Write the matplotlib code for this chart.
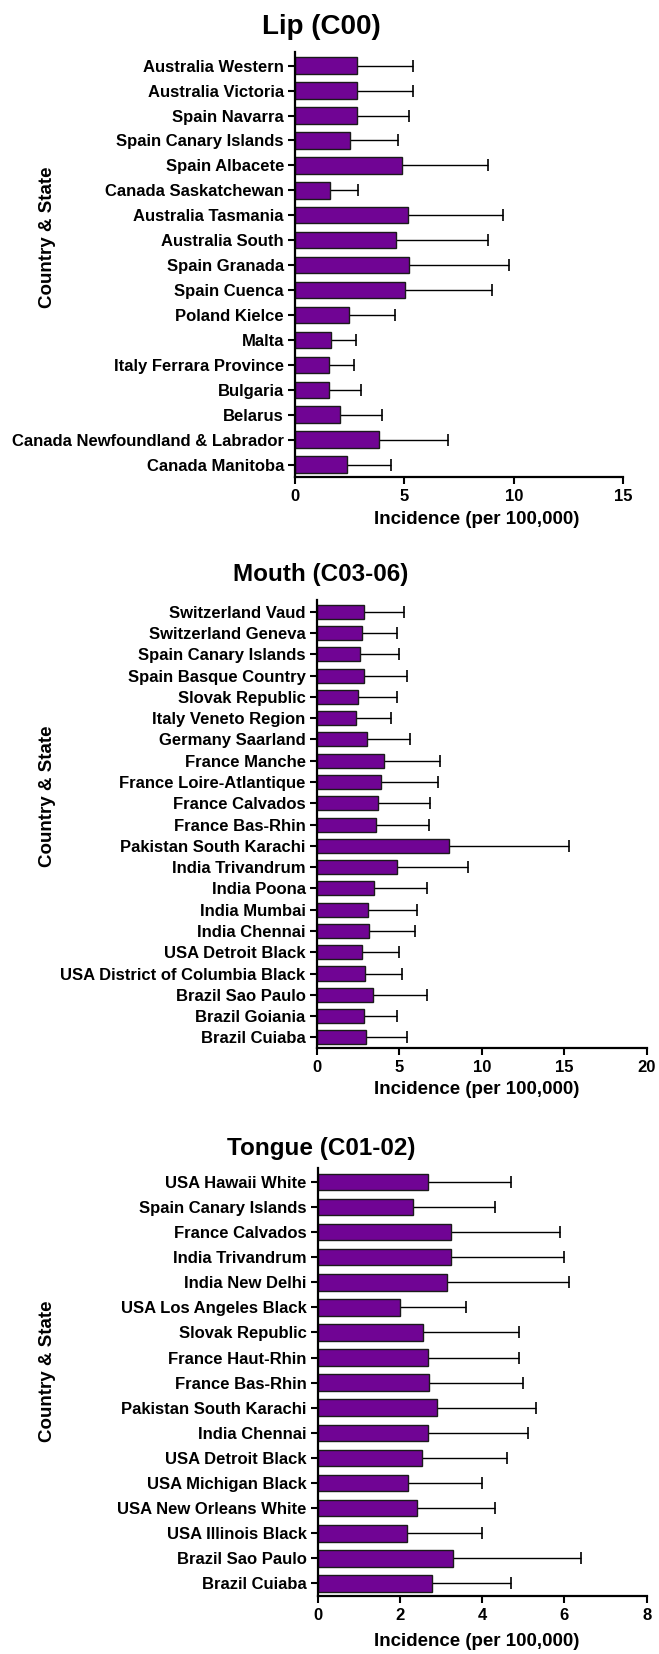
import matplotlib
matplotlib.use("Agg")
import matplotlib.pyplot as plt

plt.rcParams['font.family'] = ['Liberation Sans', 'DejaVu Sans']
plt.rcParams['font.weight'] = 'bold'

# Lip (C00)
lip_sites = ["Australia Western", "Australia Victoria", "Spain Navarra", "Spain Canary Islands",
             "Spain Albacete", "Canada Saskatchewan", "Australia Tasmania", "Australia South",
             "Spain Granada", "Spain Cuenca", "Poland Kielce", "Malta", "Italy Ferrara Province",
             "Bulgaria", "Belarus", "Canada Newfoundland & Labrador", "Canada Manitoba"]
lip_mean = [2.85, 2.82, 2.85, 2.51, 4.87, 1.58, 5.15, 4.60, 5.19, 5.01, 2.47, 1.63, 1.54, 1.54, 2.07, 3.82, 2.36]
lip_err = [2.56, 2.59, 2.34, 2.18, 3.93, 1.31, 4.34, 4.20, 4.60, 3.99, 2.11, 1.16, 1.14, 1.46, 1.92, 3.17, 2.03]

# Mouth (C03-06)
mouth_sites = ["Switzerland Vaud", "Switzerland Geneva", "Spain Canary Islands", "Spain Basque Country",
               "Slovak Republic", "Italy Veneto Region", "Germany Saarland", "France Manche",
               "France Loire-Atlantique", "France Calvados", "France Bas-Rhin", "Pakistan South Karachi",
               "India Trivandrum", "India Poona", "India Mumbai", "India Chennai", "USA Detroit Black",
               "USA District of Columbia Black", "Brazil Sao Paulo", "Brazil Goiania", "Brazil Cuiaba"]
mouth_mean = [2.89, 2.73, 2.65, 2.89, 2.53, 2.36, 3.03, 4.08, 3.92, 3.74, 3.62, 8.04, 4.87, 3.49,
              3.13, 3.15, 2.73, 2.95, 3.43, 2.87, 2.99]
mouth_err = [2.40, 2.14, 2.34, 2.56, 2.32, 2.12, 2.63, 3.39, 3.43, 3.13, 3.17, 7.23, 4.30, 3.20,
             2.95, 2.83, 2.26, 2.24, 3.26, 2.00, 2.46]

# Tongue (C01-02)
tongue_sites = ["USA Hawaii White", "Spain Canary Islands", "France Calvados", "India Trivandrum",
                "India New Delhi", "USA Los Angeles Black", "Slovak Republic", "France Haut-Rhin",
                "France Bas-Rhin", "Pakistan South Karachi", "India Chennai", "USA Detroit Black",
                "USA Michigan Black", "USA New Orleans White", "USA Illinois Black", "Brazil Sao Paulo",
                "Brazil Cuiaba"]
tongue_mean = [2.68, 2.31, 3.23, 3.24, 3.14, 1.99, 2.55, 2.67, 2.70, 2.89, 2.67, 2.54, 2.19, 2.41, 2.16, 3.29, 2.78]
tongue_err = [2.02, 1.99, 2.66, 2.76, 2.96, 1.61, 2.34, 2.22, 2.30, 2.42, 2.44, 2.06, 1.81, 1.89, 1.84, 3.12, 1.92]

W, H = 659, 1654
fig = plt.figure(figsize=(W / 100, H / 100), dpi=100)

BAR = '#700494'


def panel(rect, sites, mean, err, xmax, step, title, title_y, title_size, xlab_y, ylab_y):
    l, r, t, b = rect
    ax = fig.add_axes([l / W, 1 - b / H, (r - l) / W, (b - t) / H])
    y = list(range(len(sites)))
    ax.barh(y, mean, height=0.66, color=BAR, edgecolor='#1a1a1a', linewidth=1.0, zorder=2)
    ax.errorbar(mean, y, xerr=[[0] * len(err), err], fmt='none', ecolor='black',
                elinewidth=1.0, capsize=4, capthick=1.2, zorder=1)
    ax.set_yticks(y)
    ax.set_yticklabels(sites, fontsize=12, fontweight='bold')
    ax.set_ylim(len(sites) - 0.5, -0.55)
    ax.set_xlim(0, xmax)
    ax.set_xticks(range(0, xmax + 1, step))
    ax.tick_params(axis='x', labelsize=12, width=1.5, length=5)
    ax.tick_params(axis='y', width=1.5, length=5, pad=3)
    for lab in ax.get_xticklabels():
        lab.set_fontweight('bold')
    for s in ['top', 'right']:
        ax.spines[s].set_visible(False)
    for s in ['left', 'bottom']:
        ax.spines[s].set_linewidth(1.6)
    fig.text(321 / W, 1 - title_y / H, title, ha='center', va='center',
             fontsize=title_size, fontweight='bold')
    fig.text(477 / W, 1 - xlab_y / H, "Incidence (per 100,000)", ha='center', va='center',
             fontsize=13.5, fontweight='bold')
    fig.text(48 / W, 1 - ylab_y / H, "Country & State", ha='center', va='center',
             rotation=90, fontsize=13.5, fontweight='bold')
    return ax


panel((295, 623.3, 52, 477), lip_sites, lip_mean, lip_err, 15, 5,
      "Lip (C00)", 27, 20, 519, 237)
panel((316.7, 646.7, 600, 1048), mouth_sites, mouth_mean, mouth_err, 20, 5,
      "Mouth (C03-06)", 575, 17.5, 1090, 796)
panel((317.7, 646.7, 1168, 1596), tongue_sites, tongue_mean, tongue_err, 8, 2,
      "Tongue (C01-02)", 1148, 17.5, 1641, 1371)

plt.savefig("out.png", dpi=100)
plt.close(fig)
